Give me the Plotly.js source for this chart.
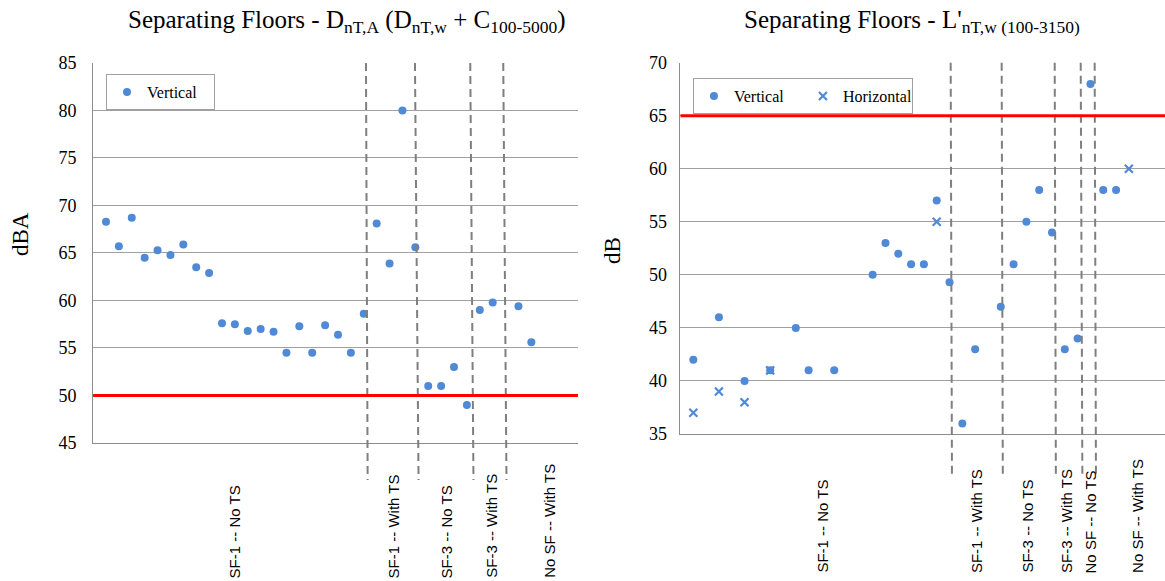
<!DOCTYPE html>
<html>
<head>
<meta charset="utf-8">
<script src="https://cdn.plot.ly/plotly-3.0.1.min.js"></script>
<style>html,body{margin:0;padding:0;background:#fff;}#chart{width:1165px;height:581px;}</style>
</head>
<body>
<div id="chart"></div>
<script>
// ---- Data ----
const leftX = [1,2,3,4,5,6,7,8,9,10,11,12,13,14,15,16,17,18,19,20,21,22,23,24,25,26,27,28,29,30,31,33,34];
const leftVertical = [68.3,65.7,68.7,64.5,65.3,64.8,65.9,63.5,62.9,57.6,57.5,56.8,57.0,56.7,54.5,57.3,54.5,57.4,56.4,54.5,58.6,68.1,63.9,80.0,65.6,51.0,51.0,53.0,49.0,59.0,59.8,59.4,55.6];

const rightVX = [1,3,5,7,9,10,12,15,16,17,18,19,20,21,22,23,25,26,27,28,29,30,31,32,33,34];
const rightVertical = [42,46,40,41,45,41,41,50,53,52,51,51,57,49.3,36,43,47,51,55,58,54,43,44,68,58,58];
const rightHX = [1,3,5,7,20,35];
const rightHorizontal = [37,39,38,41,55,60];

const leftGroups = ["SF-1 -- No TS","SF-1 -- With TS","SF-3 -- No TS","SF-3 -- With TS","No SF -- With TS"];
const rightGroups = ["SF-1 -- No TS","SF-1 -- With TS","SF-3 -- No TS","SF-3 -- With TS","No SF -- No TS","No SF -- With TS"];

const leftLimit = 50;
const rightLimit = 65;

// ---- Layout constants ----
const leftGroupPos = [11.0, 23.3, 27.45, 30.85, 35.35];
const rightGroupPos = [11.05, 23.07, 27.05, 30.09, 32.04, 35.63];
const leftDividers = [[21.17,21.30],[24.97,25.25],[29.26,29.51],[31.82,32.07]];
const rightDividers = [[21.09,21.19],[25.07,25.16],[29.21,29.30],[31.24,31.37],[32.33,32.43]];
const leftRange = [0, 37.62];
const rightRange = [0, 37.82];

const blue = '#5089d6';
const serif = 'Liberation Serif, Times New Roman, serif';
const sans = 'Liberation Sans, Arial, sans-serif';

const traces = [
  {x: leftX, y: leftVertical, type: 'scatter', mode: 'markers', name: 'Vertical',
   xaxis: 'x', yaxis: 'y', legend: 'legend',
   marker: {symbol: 'circle', size: 8, color: blue}},
  {x: rightVX, y: rightVertical, type: 'scatter', mode: 'markers', name: 'Vertical',
   xaxis: 'x2', yaxis: 'y2', legend: 'legend2',
   marker: {symbol: 'circle', size: 8, color: blue}},
  {x: rightHX, y: rightHorizontal, type: 'scatter', mode: 'markers', name: 'Horizontal',
   xaxis: 'x2', yaxis: 'y2', legend: 'legend2',
   marker: {symbol: 'x-thin-open', size: 8, color: blue, line: {color: blue, width: 2.2}}}
];

const shapes = [];
function frac(v, r) { return (v - r[0]) / (r[1] - r[0]); }
leftDividers.forEach(d => shapes.push({type: 'line', xref: 'x domain', yref: 'paper',
  x0: frac(d[0], leftRange), x1: frac(d[1], leftRange), y0: 0.8916, y1: 0.1738,
  line: {color: '#7f7f7f', width: 2, dash: '8px,5px'}}));
rightDividers.forEach(d => shapes.push({type: 'line', xref: 'x2 domain', yref: 'paper',
  x0: frac(d[0], rightRange), x1: frac(d[1], rightRange), y0: 0.892, y1: 0.179,
  line: {color: '#7f7f7f', width: 2, dash: '8px,5px'}}));
shapes.push({type: 'line', xref: 'x domain', yref: 'y', x0: 0, x1: 1, y0: leftLimit, y1: leftLimit,
  line: {color: '#ff0000', width: 3}});
shapes.push({type: 'line', xref: 'x2 domain', yref: 'y2', x0: 0, x1: 1, y0: rightLimit, y1: rightLimit,
  line: {color: '#ff0000', width: 3}});

const annotations = [
  {text: 'Separating Floors - D<sub>nT,A</sub> (D<sub>nT,w</sub> + C<sub>100-5000</sub>)',
   xref: 'paper', yref: 'paper', x: 0.2979, y: 0.9635, xanchor: 'center', yanchor: 'middle',
   showarrow: false, font: {family: serif, size: 25, color: '#000'}},
  {text: "Separating Floors - L'<sub>nT,w (100-3150)</sub>",
   xref: 'paper', yref: 'paper', x: 0.7828, y: 0.9635, xanchor: 'center', yanchor: 'middle',
   showarrow: false, font: {family: serif, size: 25, color: '#000'}},
  {text: 'dBA', xref: 'paper', yref: 'paper', x: 0.0172, y: 0.5972, textangle: -90,
   xanchor: 'center', yanchor: 'middle', showarrow: false, font: {family: serif, size: 23, color: '#000'}},
  {text: 'dB', xref: 'paper', yref: 'paper', x: 0.5253, y: 0.5697, textangle: -90,
   xanchor: 'center', yanchor: 'middle', showarrow: false, font: {family: serif, size: 23, color: '#000'}}
];
leftGroups.forEach((g, i) => annotations.push({text: g, xref: 'x', yref: 'paper', x: leftGroupPos[i],
  y: 0.0017, textangle: -90, xanchor: 'center', yanchor: 'bottom', showarrow: false,
  font: {family: sans, size: 15, color: '#000'}}));
rightGroups.forEach((g, i) => annotations.push({text: g, xref: 'x2', yref: 'paper', x: rightGroupPos[i],
  y: 0.0103, textangle: -90, xanchor: 'center', yanchor: 'bottom', showarrow: false,
  font: {family: sans, size: 15, color: '#000'}}));

const yCommon = {showgrid: true, gridcolor: '#a0a0a0', gridwidth: 1, showline: true, linecolor: '#8c8c8c',
  linewidth: 1, zeroline: false, ticks: '', dtick: 5, tickfont: {family: serif, size: 18, color: '#000'},
  automargin: false, fixedrange: true};
const xCommon = {showgrid: false, showline: true, linecolor: '#8c8c8c', linewidth: 1, zeroline: false,
  showticklabels: false, ticks: '', automargin: false, fixedrange: true};

const layout = {
  width: 1165, height: 581,
  margin: {l: 0, r: 0, t: 0, b: 0},
  paper_bgcolor: '#fff', plot_bgcolor: '#fff',
  xaxis: Object.assign({}, xCommon, {domain: [0.07991, 0.49614], range: leftRange, anchor: 'y'}),
  yaxis: Object.assign({}, yCommon, {domain: [0.23752, 0.89157], range: [45, 85], anchor: 'x', ticklabelstandoff: 12}),
  xaxis2: Object.assign({}, xCommon, {domain: [0.58412, 1], range: rightRange, anchor: 'y2'}),
  yaxis2: Object.assign({}, yCommon, {domain: [0.25301, 0.89208], range: [35, 70], anchor: 'x2', ticklabelstandoff: 9}),
  showlegend: true,
  legend: {x: 0.0910, y: 0.8726, xanchor: 'left', yanchor: 'top', orientation: 'h',
    bordercolor: '#a0a0a0', borderwidth: 1, bgcolor: '#fff', itemwidth: 30, entrywidth: 62,
    font: {family: serif, size: 16, color: '#000'}},
  legend2: {x: 0.5948, y: 0.8657, xanchor: 'left', yanchor: 'top', orientation: 'h',
    bordercolor: '#a0a0a0', borderwidth: 1, bgcolor: '#fff', itemwidth: 30, entrywidth: 64,
    font: {family: serif, size: 16, color: '#000'}},
  shapes: shapes,
  annotations: annotations
};

Plotly.newPlot('chart', traces, layout, {displayModeBar: false, staticPlot: true});
</script>
</body>
</html>
